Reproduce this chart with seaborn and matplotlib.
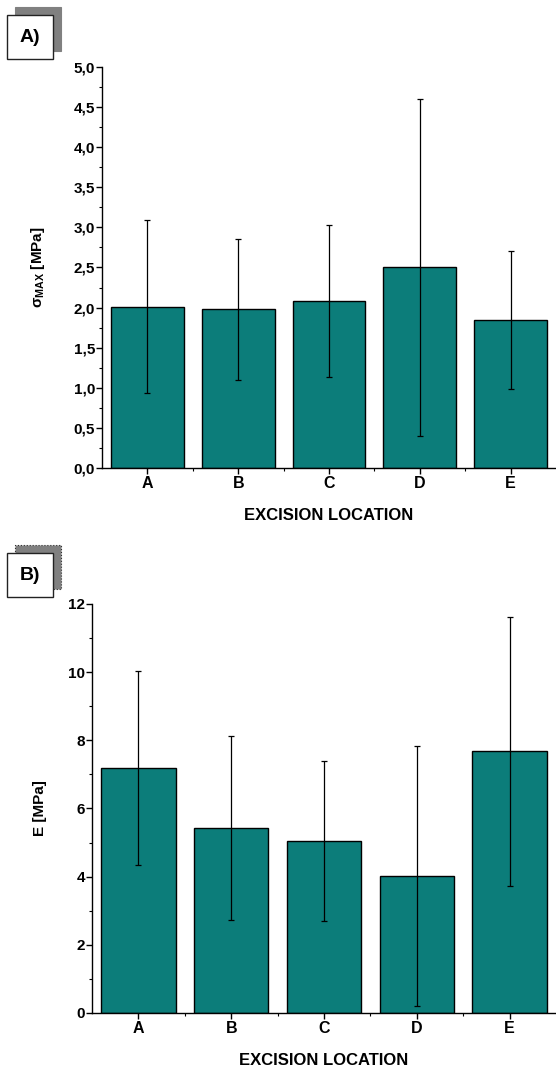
import matplotlib
matplotlib.use("Agg")
import matplotlib.pyplot as plt
import seaborn as sns
import pandas as pd
import numpy as np
from matplotlib.patches import Rectangle
from matplotlib.ticker import MultipleLocator, FuncFormatter, FixedLocator

locations = ["A", "B", "C", "D", "E"]
sigma_mean = [2.01, 1.98, 2.08, 2.50, 1.84]
sigma_sd = [1.08, 0.88, 0.95, 2.10, 0.86]
e_mean = [7.18, 5.43, 5.05, 4.02, 7.68]
e_sd = [2.84, 2.70, 2.34, 3.82, 3.95]

sns.set_theme(style="ticks")
plt.rcParams['font.family'] = ['Liberation Sans', 'DejaVu Sans']
plt.rcParams['font.weight'] = 'bold'
plt.rcParams['text.color'] = 'black'
plt.rcParams['axes.labelcolor'] = 'black'
plt.rcParams['xtick.color'] = 'black'
plt.rcParams['ytick.color'] = 'black'
plt.rcParams['mathtext.fontset'] = 'custom'
plt.rcParams['mathtext.rm'] = 'Liberation Sans:bold'
plt.rcParams['mathtext.bf'] = 'Liberation Sans:bold'
plt.rcParams['mathtext.it'] = 'Liberation Sans:bold'

BAR = "#0c7d7a"

fig = plt.figure(figsize=(5.56, 10.68), dpi=100)
axA = fig.add_axes([0.1835, 0.5618, 0.8165, 0.3755])
axB = fig.add_axes([0.1655, 0.0515, 0.8345, 0.3830])

def draw(ax, means, sds, ylim, major, minor, fmt, ylabel, ypad):
    df = pd.DataFrame({"loc": locations, "val": means})
    sns.barplot(data=df, x="loc", y="val", ax=ax, color=BAR, saturation=1,
                edgecolor="black", linewidth=1.0, width=0.8, errorbar=None)
    ax.errorbar(x=np.arange(len(locations)), y=means, yerr=sds, fmt="none",
                ecolor="black", elinewidth=0.9, capsize=2.2, capthick=0.9, zorder=5)
    ax.set_xlim(-0.5, 4.5)
    ax.set_ylim(*ylim)
    ax.yaxis.set_major_locator(MultipleLocator(major))
    ax.yaxis.set_minor_locator(MultipleLocator(minor))
    ax.yaxis.set_major_formatter(FuncFormatter(fmt))
    ax.xaxis.set_minor_locator(FixedLocator([0.5, 1.5, 2.5, 3.5]))
    for s in ["top", "right"]:
        ax.spines[s].set_visible(False)
    for s in ["left", "bottom"]:
        ax.spines[s].set_linewidth(1.0)
        ax.spines[s].set_color("black")
    ax.tick_params(axis="both", which="major", direction="out", length=4, width=1,
                   colors="black", labelcolor="black")
    ax.tick_params(axis="both", which="minor", direction="out", length=2.5, width=0.8, colors="black")
    ax.tick_params(axis="y", labelsize=11, pad=1)
    ax.tick_params(axis="x", labelsize=11.5, pad=2)
    for lab in ax.get_xticklabels() + ax.get_yticklabels():
        lab.set_fontweight("bold")
        lab.set_color("black")
    ax.set_xlabel("EXCISION LOCATION", fontsize=12, fontweight="bold", labelpad=12, color="black")
    ax.set_ylabel(ylabel, fontsize=11, fontweight="bold", labelpad=ypad, color="black")
    ax.set_facecolor("white")

draw(axA, sigma_mean, sigma_sd, (0, 5.0), 0.5, 0.25,
     lambda v, p: f"{v:.1f}".replace(".", ","), r"$\mathbf{\sigma_{MAX}}$ [MPa]", 19)
draw(axB, e_mean, e_sd, (0, 12), 2, 1,
     lambda v, p: f"{int(round(v))}", "E [MPa]", 15)

W, H = 556.0, 1068.0
def label_box(x0, y0, text, dotted=False):
    w, h = 46, 44
    shadow = Rectangle(((x0 + 8) / W, 1 - (y0 - 8 + h) / H), w / W, h / H,
                       transform=fig.transFigure, facecolor="#808080",
                       edgecolor="#303030" if dotted else "#808080",
                       linestyle=":" if dotted else "-", linewidth=0.8)
    box = Rectangle((x0 / W, 1 - (y0 + h) / H), w / W, h / H,
                    transform=fig.transFigure, facecolor="white",
                    edgecolor="#222222", linewidth=1.0)
    fig.patches.extend([shadow, box])
    fig.text((x0 + w / 2) / W, 1 - (y0 + h / 2) / H, text, ha="center", va="center",
             fontsize=14, fontweight="bold", color="black")

label_box(7, 15, "A)")
label_box(7, 553, "B)", dotted=True)

fig.savefig("out.png", dpi=100, facecolor="white")
